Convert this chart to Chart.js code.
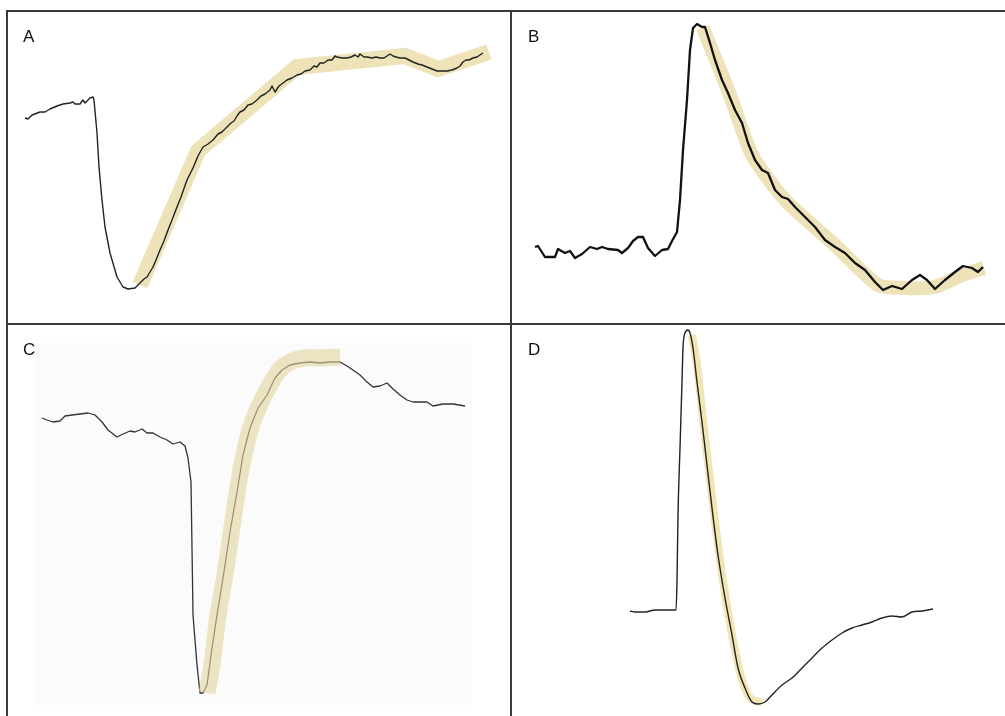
<!DOCTYPE html>
<html>
<head>
<meta charset="utf-8">
<script src="https://cdn.jsdelivr.net/npm/chart.js@4.4.1/dist/chart.umd.min.js"></script>
<style>
    body { margin: 0; background: #fff; width: 1005px; height: 716px; overflow: hidden; position: relative; font-family: "Liberation Sans", Arial, sans-serif; }
    .panel { position: absolute; }
    .rule { position: absolute; background: #3a3a3a; }
    .tag { position: absolute; font-size: 17px; color: #111; line-height: 1; }
    #bgC { position: absolute; left: 35px; top: 343px; width: 437px; height: 362px; background: #fbfbfb; }
</style>
</head>
<body>
<div id="bgC"></div>
<div class="panel" style="left:8px;top:12px;width:502px;height:310px"><canvas id="chartA"></canvas></div>
<div class="panel" style="left:512px;top:12px;width:493px;height:310px"><canvas id="chartB"></canvas></div>
<div class="panel" style="left:8px;top:325px;width:502px;height:391px"><canvas id="chartC"></canvas></div>
<div class="panel" style="left:512px;top:325px;width:493px;height:391px"><canvas id="chartD"></canvas></div>

<div class="rule" style="left:6px;top:10px;width:999px;height:2px"></div>
<div class="rule" style="left:6px;top:323px;width:999px;height:2px"></div>
<div class="rule" style="left:6px;top:10px;width:2px;height:706px"></div>
<div class="rule" style="left:510px;top:10px;width:2px;height:706px"></div>

<div class="tag" style="left:23px;top:28px">A</div>
<div class="tag" style="left:528px;top:28px">B</div>
<div class="tag" style="left:23px;top:341px">C</div>
<div class="tag" style="left:528px;top:341px">D</div>

<script>
// traces: [time, amplitude] in arbitrary units
const traceA = [[17,204],[20,203],[24,207],[32,210],[37,210],[42,213],[49,216],[55,218],[62,219],[65,220],[67,218],[72,218],[75,222],[77,219],
    [80,222],[82,224],[85,225],[86,222],[89,189],[91,155],[94,122],[97,95],[102,69],[109,45],[115,35],[120,33],[127,34],
    [132,39],[136,43],[139,45],[142,50],[145,55],[148,62],[152,72],[156,81],[160,92],[164,102],[169,115],[173,125],[179,142],[182,148],
    [185,154],[190,166],[195,175],[200,178],[205,182],[210,188],[214,190],[219,195],[223,199],[226,201],[229,206],[232,210],[236,212],
    [240,217],[244,218],[249,222],[253,226],[257,228],[262,232],[264,236],[267,230],[271,236],[275,239],[279,242],[284,244],[289,247],
    [293,248],[297,251],[302,252],[306,256],[309,255],[312,259],[316,259],[320,262],[324,262],[327,266],[329,265],[334,264],[339,264],
    [343,265],[347,267],[350,265],[352,268],[356,265],[359,265],[364,264],[368,265],[372,264],[376,264],[379,266],[382,268],[385,266],
    [388,265],[392,264],[397,264],[401,262],[405,260],[410,258],[414,257],[419,255],[424,253],[429,251],[434,251],[439,251],[444,252],
    [449,254],[452,256],[455,260],[458,262],[461,262],[465,264],[469,265],[472,267],[475,269]];
const bandA = [[132,37],[190,171],[289,255],[397,266],[430,253],[481,270]];

const traceB = [[23,75],[26,76],[33,65],[43,65],[46,73],[53,69],[58,71],[63,64],[70,68],[78,75],[85,73],[90,75],[96,73],[106,72],[110,69],
    [116,74],[121,81],[126,85],[131,85],[136,74],[143,66],[150,72],[156,73],[160,81],[165,90],
    [168,122],[171,172],[175,222],[178,272],[181,294],[185,298],[190,295],[193,295],
    [198,279],[203,262],[210,242],[216,229],[223,212],[230,199],[236,179],[243,162],[250,152],[256,149],[263,132],[270,125],[276,123],
    [283,115],[293,105],[303,95],[313,82],[323,75],[333,69],[343,59],[353,52],[363,40],[371,32],[380,36],[390,33],[400,42],
    [408,47],[415,42],[423,33],[433,42],[443,50],[451,56],[460,54],[466,50],[471,55]];
const bandB = [[191,294],[218,227],[240,167],[273,122],[323,77],[366,37],[393,34],[423,35],[448,46],[472,54]];

const traceC = [[34,298],[39,296],[45,294],[52,295],[57,300],[64,301],[72,302],[80,303],[87,301],[94,294],[100,286],[109,279],[115,282],
    [122,285],[127,284],[134,287],[139,283],[145,283],[152,279],[159,276],[165,272],[172,274],[177,270],
    [180,258],[183,234],[184,168],[185,101],[189,51],[192,23],[195,23],[199,31],
    [204,68],[209,101],[215,138],[222,184],[229,224],[235,261],[242,288],[250,308],[259,321],[267,338],[274,346],[282,351],
    [292,353],[302,354],[312,353],[322,354],[332,354],[339,350],[345,346],[352,341],[359,334],[365,329],[372,330],[379,333],
    [385,327],[392,321],[399,316],[405,314],[412,314],[419,314],[425,310],[435,312],[445,312],[457,310]];
const bandC = [[199,23],[204,51],[210,101],[217,141],[225,196],[232,241],[242,286],[254,316],[270,344],[282,354],[297,358],[312,358],[332,359]];

const traceD = [[118,105],[123,104],[133,104],[143,106],[153,106],[164,106],
    [165,134],[166,201],[168,268],[170,334],[171,368],[173,383],[176,386],[178,383],[181,368],
    [185,334],[190,294],[195,251],[200,208],[206,161],[213,118],[220,81],[226,48],[233,28],[240,14],[246,12],[253,14],
    [260,21],[270,31],[280,38],[290,48],[300,58],[310,68],[320,76],[330,83],[340,88],[350,91],[360,94],[370,98],
    [380,100],[390,99],[400,104],[410,105],[421,107]];
const bandD = [[180,381],[185,351],[191,296],[198,236],[206,171],[214,116],[222,71],[230,36],[238,18],[250,13]];

function toPoints(list) {
    return list.map(function (p) { return { x: p[0], y: p[1] }; });
}

function makePanel(id, trace, band, opts) {
    var ctx = document.getElementById(id).getContext('2d');
    var traceSet = {
        data: toPoints(trace),
        showLine: true,
        borderColor: opts.lineColor,
        borderWidth: opts.lineWidth,
        pointRadius: 0,
        cubicInterpolationMode: opts.smooth ? 'monotone' : 'default',
        tension: 0,
        borderJoinStyle: 'round'
    };
    var bandSet = {
        data: toPoints(band),
        showLine: true,
        borderColor: opts.bandColor,
        borderWidth: opts.bandWidth,
        pointRadius: 0,
        tension: opts.bandTension,
        borderJoinStyle: 'miter',
        borderCapStyle: 'butt'
    };
    // first dataset ends up on top
    var sets = opts.bandOnTop ? [bandSet, traceSet] : [traceSet, bandSet];
    return new Chart(ctx, {
        type: 'scatter',
        data: { datasets: sets },
        options: {
            responsive: true,
            maintainAspectRatio: false,
            animation: false,
            layout: { padding: 0 },
            scales: {
                x: { type: 'linear', display: false, min: 0, max: opts.xMax },
                y: { type: 'linear', display: false, min: 0, max: opts.yMax }
            },
            plugins: { legend: { display: false }, tooltip: { enabled: false } }
        }
    });
}

makePanel('chartA', traceA, bandA, { xMax: 502, yMax: 310, lineColor: '#222', lineWidth: 1.4,
    bandColor: 'rgba(222,202,125,0.55)', bandWidth: 16, bandTension: 0 });
makePanel('chartB', traceB, bandB, { xMax: 493, yMax: 310, lineColor: '#111', lineWidth: 2.3,
    bandColor: 'rgba(222,202,125,0.55)', bandWidth: 14, bandTension: 0.2 });
makePanel('chartC', traceC, bandC, { xMax: 502, yMax: 391, lineColor: '#333', lineWidth: 1.3,
    bandColor: 'rgba(225,212,155,0.6)', bandWidth: 17, bandTension: 0.3, bandOnTop: true });
makePanel('chartD', traceD, bandD, { xMax: 493, yMax: 391, lineColor: '#222', lineWidth: 1.4, smooth: true,
    bandColor: 'rgba(228,208,120,0.55)', bandWidth: 8, bandTension: 0.3 });
</script>
</body>
</html>
